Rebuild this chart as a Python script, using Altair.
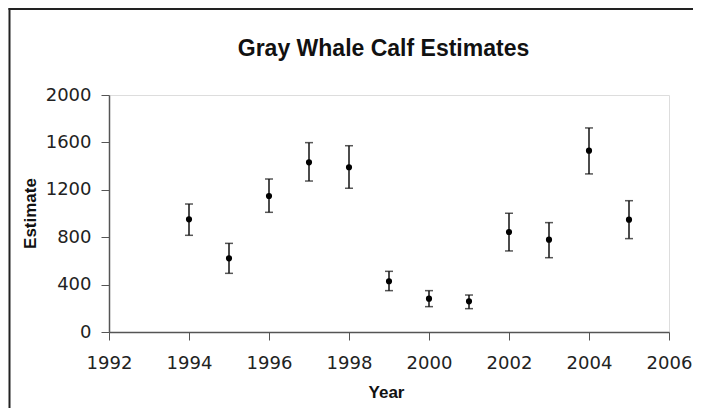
import altair as alt
import pandas as pd

years = [1994, 1995, 1996, 1997, 1998, 1999, 2000, 2001, 2002, 2003, 2004, 2005]
estimate = [951, 622, 1148, 1432, 1390, 428, 281, 259, 844, 779, 1530, 948]
lower = [816, 495, 1010, 1274, 1213, 349, 214, 197, 684, 627, 1334, 788]
upper = [1080, 748, 1291, 1598, 1572, 512, 349, 312, 1002, 923, 1722, 1108]

x_ticks = [1992, 1994, 1996, 1998, 2000, 2002, 2004, 2006]
y_ticks = [0, 400, 800, 1200, 1600, 2000]
title_text = ["Gray Whale Calf Estimates"]

df = pd.DataFrame({"Year": years, "Estimate": estimate, "lower": lower, "upper": upper})

COND = "Liberation Sans, Arial, sans-serif"
LAB = "DejaVu Sans, Verdana, sans-serif"

x_enc = alt.X(
    "Year:Q",
    scale=alt.Scale(domain=[1992, 2006], nice=False, zero=False),
    axis=alt.Axis(
        values=x_ticks, format="d", title="Year", grid=False,
        labelFont=LAB, labelFontSize=18, labelColor="#222", labelPadding=14,
        labelFlush=False, labelOverlap=False,
        tickSize=8, tickColor="#555", domainColor="#555", domainWidth=1.5,
        titleFont=COND, titleFontSize=17, titleFontWeight="bold", titleColor="#111",
        titleX=277, titleY=65, titleBaseline="alphabetic", titleAnchor="middle",
    ),
)
y_scale = alt.Scale(domain=[0, 2000], nice=False)
y_axis = alt.Axis(
    values=y_ticks, format="d", title="Estimate", grid=False,
    labelFont=LAB, labelFontSize=18, labelColor="#222", labelPadding=10,
    labelFlush=False, labelOverlap=False,
    tickSize=8, tickColor="#555", domainColor="#555", domainWidth=1.5,
    titleFont=COND, titleFontSize=17, titleFontWeight="bold", titleColor="#111",
    titleX=-79, titleY=118, titleBaseline="middle", titleAngle=-90,
)

base = alt.Chart(df)

bars = base.mark_errorbar(ticks=True, size=8, thickness=1.5, color="#111").encode(
    x=x_enc,
    y=alt.Y("lower:Q", scale=y_scale, axis=y_axis),
    y2="upper:Q",
)

points = base.mark_point(filled=True, size=38, color="#000", opacity=1).encode(
    x=alt.X("Year:Q"),
    y=alt.Y("Estimate:Q"),
)

frame = alt.Chart(pd.DataFrame({"t": title_text}))
title = frame.mark_text(
    font=COND, fontSize=23, fontWeight="bold", color="#111",
    align="center", baseline="alphabetic",
).encode(text="t:N", x=alt.value(274.5), y=alt.value(-39))

left_line = frame.mark_rule(color="#222", strokeWidth=2).encode(
    x=alt.value(-99.5), y=alt.value(-87), y2=alt.value(320)
)
top_line = frame.mark_rule(color="#222", strokeWidth=2).encode(
    x=alt.value(-100.5), x2=alt.value(584), y=alt.value(-86)
)

chart = alt.layer(left_line, top_line, title, bars, points).properties(
    width=560,
    height=237,
    autosize=alt.AutoSizeParams(type="none"),
    padding={"left": 101, "top": 87, "right": 24, "bottom": 76},
).configure_view(stroke="#555", strokeWidth=1.5).configure(background="white")

chart.save("out.html", embed_options={"renderer": "svg", "actions": False})
